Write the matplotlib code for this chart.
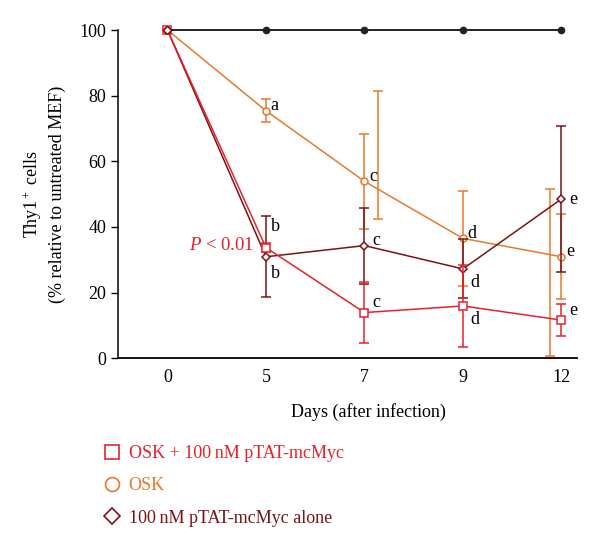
import matplotlib
matplotlib.use("Agg")
import matplotlib.pyplot as plt
from matplotlib.lines import Line2D

plt.rcParams["font.family"] = ["Liberation Serif", "DejaVu Serif"]
plt.rcParams["mathtext.fontset"] = "custom"
plt.rcParams["mathtext.rm"] = "Liberation Serif"
plt.rcParams["mathtext.it"] = "Liberation Serif:italic"

days = ["0", "5", "7", "9", "12"]
x = list(range(len(days)))

untreated = [100, 100, 100, 100, 100]

osk_myc = [100, 33.7, 13.9, 15.9, 11.6]
osk_myc_err = [0, 1.5, 9.3, 12.4, 4.8]

osk = [100, 75.4, 53.9, 36.5, 30.9]
osk_err = [0, 3.5, 14.5, 14.5, 13.0]

myc_alone = [100, 30.9, 34.3, 27.2, 48.5]
myc_alone_err = [0, 12.4, 11.6, 9.0, 22.2]

# stray OSK error bars drawn beside the points in the original
stray_x = [2.14, 3.88]
stray_lo = [42.5, 0.7]
stray_hi = [81.4, 51.7]

letters_osk = ["", "a", "c", "d", "e"]
letters_myc = ["", "b", "c", "d", "e"]
letters_alone = ["", "b", "c", "d", "e"]

RED = "#e5222b"
ORANGE = "#e8782a"
BROWN = "#7b1214"
FS = 13

fig = plt.figure(figsize=(6, 5.51), dpi=100)
ax = fig.add_axes([0.197, 0.350, 0.765, 0.5955])

eb_kw = dict(elinewidth=1.1, capsize=3.5, capthick=1.1, linewidth=1.1,
             markerfacecolor="white", markeredgewidth=1.1, clip_on=False)

ax.errorbar(x, osk, yerr=osk_err, color=ORANGE, marker="o",
            markeredgecolor=ORANGE, markersize=5, zorder=3, **eb_kw)
for sx, lo, hi in zip(stray_x, stray_lo, stray_hi):
    mid = (lo + hi) / 2
    ax.errorbar([sx], [mid], yerr=[[mid - lo], [hi - mid]], fmt="none",
                ecolor=ORANGE, elinewidth=1.1, capsize=3.5, capthick=1.1,
                clip_on=False, zorder=2)

ax.errorbar(x, myc_alone, yerr=myc_alone_err, color=BROWN, marker="D",
            markeredgecolor=BROWN, markersize=4.5, zorder=4, **eb_kw)
ax.errorbar(x, osk_myc, yerr=osk_myc_err, color=RED, marker="s",
            markeredgecolor=RED, markersize=5.5, zorder=5, **eb_kw)

ax.plot(x, untreated, color="#222222", marker="o", markersize=4.5,
        linewidth=1.4, clip_on=False, zorder=6)
ax.plot([0], [100], marker="D", markersize=4.5, color=BROWN,
        markerfacecolor="white", clip_on=False, zorder=7)

# letters
lab_kw = dict(fontsize=FS, color="black", zorder=8)
for i in range(1, 5):
    ax.text(x[i] + 0.05, osk[i] + 1.5, letters_osk[i], ha="left",
            va="center", **lab_kw)
ax.text(x[1] + 0.05, osk_myc[1] + 6.5, letters_myc[1], ha="left",
        va="center", **lab_kw)
for i in range(2, 5):
    ax.text(x[i] + 0.08, osk_myc[i] + (3 if i != 3 else -4), letters_myc[i],
            ha="left", va="center", **lab_kw)
ax.text(x[1] + 0.05, myc_alone[1] - 5, letters_alone[1], ha="left",
        va="center", **lab_kw)
ax.text(x[2] + 0.08, myc_alone[2] + 1.5, letters_alone[2], ha="left",
        va="center", **lab_kw)
ax.text(x[3] + 0.08, myc_alone[3] - 4, letters_alone[3], ha="left",
        va="center", **lab_kw)
ax.text(x[4] + 0.08, myc_alone[4], letters_alone[4], ha="left",
        va="center", **lab_kw)

ax.text(x[1] - 0.12, osk_myc[1] + 0.5, r"$P$ < 0.01", color=RED,
        fontsize=FS + 0.5, ha="right", va="center")

ax.set_xlim(-0.5, 4.16)
ax.set_ylim(0, 100)
ax.set_xticks(x)
ax.set_xticklabels(days)
ax.set_yticks([0, 20, 40, 60, 80, 100])
ax.tick_params(axis="x", length=0, pad=8, labelsize=FS)
ax.tick_params(axis="y", length=5, width=1, labelsize=FS)
for s in ["top", "right"]:
    ax.spines[s].set_visible(False)
ax.spines["left"].set_linewidth(1.1)
ax.spines["bottom"].set_linewidth(1.3)

ax.set_xlabel("Days (after infection)", fontsize=FS, labelpad=12, x=0.545)
ax.set_ylabel("Thy1$^+$ cells\n(% relative to untreated MEF)", fontsize=FS,
              labelpad=10, linespacing=1.3)

handles = [
    Line2D([], [], linestyle="none", marker="s", markersize=10,
           markerfacecolor="white", markeredgecolor=RED, markeredgewidth=1.2),
    Line2D([], [], linestyle="none", marker="o", markersize=10,
           markerfacecolor="white", markeredgecolor=ORANGE, markeredgewidth=1.2),
    Line2D([], [], linestyle="none", marker="D", markersize=8.5,
           markerfacecolor="white", markeredgecolor=BROWN, markeredgewidth=1.2),
]
names = ["OSK + 100\u2009nM pTAT-mcMyc", "OSK", "100\u2009nM pTAT-mcMyc alone"]
leg = fig.legend(handles, names, loc="upper left",
                 bbox_to_anchor=(0.145, 0.222), frameon=False, fontsize=FS,
                 handlelength=1.0, handletextpad=0.4, labelspacing=0.85)
for t, c in zip(leg.get_texts(), [RED, ORANGE, BROWN]):
    t.set_color(c)

fig.savefig("out.png", dpi=100)
